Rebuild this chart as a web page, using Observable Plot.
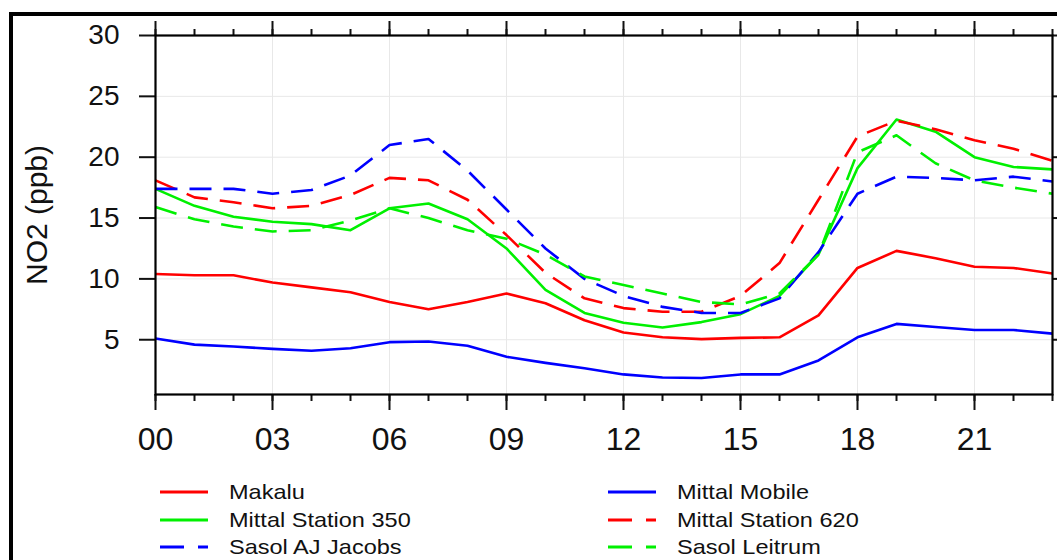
<!DOCTYPE html>
<html>
<head>
<meta charset="utf-8">
<script src="https://cdn.jsdelivr.net/npm/d3@7"></script>
<script src="https://cdn.jsdelivr.net/npm/@observablehq/plot@0.6"></script>
<style>
  html, body { margin: 0; padding: 0; background: #fff; width: 1057px; height: 560px; overflow: hidden; }
  #border { position: absolute; left: 9px; top: 12px; width: 1200px; height: 700px; border: 4px solid #000; box-sizing: border-box; }
  #chart { position: absolute; left: 0; top: 0; }
  #legend { position: absolute; top: 478px; left: 0; width: 1057px; font-family: "Liberation Sans", Arial, sans-serif; font-size: 21px; color: #111; }
  .item { position: absolute; height: 27px; display: flex; align-items: center; }
  .item svg { margin-right: 21px; }
  .item span { display: inline-block; transform: scaleX(1.12); transform-origin: left center; white-space: nowrap; }
</style>
</head>
<body>
<div id="border"></div>
<div id="chart"></div>
<div id="legend"></div>
<script>
// ---- data ----
const hours = [0,1,2,3,4,5,6,7,8,9,10,11,12,13,14,15,16,17,18,19,20,21,22,23];
const xMajorTicks = [0,3,6,9,12,15,18,21];
const xMinorTicks = [0,1,2,3,4,5,6,7,8,9,10,11,12,13,14,15,16,17,18,19,20,21,22,23];
const yTicks = [5,10,15,20,25,30];

const makalu          = [10.4,10.3,10.3,9.7,9.3,8.9,8.1,7.5,8.1,8.8,8.0,6.6,5.6,5.2,5.05,5.15,5.2,7.0,10.9,12.3,11.7,11.0,10.9,10.45];
const mittalMobile    = [5.1,4.6,4.45,4.25,4.1,4.3,4.8,4.85,4.5,3.6,3.1,2.65,2.15,1.9,1.85,2.15,2.15,3.3,5.2,6.3,6.05,5.8,5.8,5.5];
const mittal350       = [17.4,16.0,15.1,14.7,14.5,14.0,15.8,16.2,14.9,12.5,9.1,7.2,6.4,6.0,6.45,7.1,8.6,12.0,19.1,23.1,22.1,20.0,19.2,19.0];
const mittal620       = [18.1,16.7,16.3,15.8,16.0,16.9,18.3,18.1,16.5,13.6,10.5,8.4,7.6,7.3,7.3,8.6,11.3,16.5,21.7,23.0,22.3,21.4,20.7,19.7];
const sasolAJJacobs   = [17.4,17.4,17.4,17.0,17.3,18.5,21.0,21.5,18.9,15.7,12.5,10.0,8.6,7.7,7.2,7.2,8.4,12.2,17.0,18.4,18.3,18.1,18.4,18.0];
const sasolLeitrum    = [15.9,14.9,14.3,13.9,14.0,14.8,15.8,15.0,14.0,13.3,12.0,10.2,9.5,8.8,8.1,7.9,8.8,12.0,20.4,21.8,19.5,18.1,17.5,17.0];

const seriesNames  = ["Makalu","Mittal Mobile","Mittal Station 350","Mittal Station 620","Sasol AJ Jacobs","Sasol Leitrum"];
const seriesValues = [makalu, mittalMobile, mittal350, mittal620, sasolAJJacobs, sasolLeitrum];
const seriesColors = ["#ff0000","#0000ff","#00f000","#ff0000","#0000ff","#00f000"];
const seriesDashed = [false,false,false,true,true,true];

const DASH = "22,12";

const lineMarks = seriesValues.map((vals, i) =>
  Plot.line(hours.map((h, j) => ({hour: h, value: vals[j]})), {
    x: "hour", y: "value",
    stroke: seriesColors[i],
    strokeWidth: 2.6,
    strokeDasharray: seriesDashed[i] ? DASH : null,
    strokeLinejoin: "round",
    strokeLinecap: "butt"
  })
);

const pad2 = d => String(d).padStart(2, "0");
const blank = () => "";

const chart = Plot.plot({
  width: 1057,
  height: 470,
  marginLeft: 155,
  marginRight: 5,
  marginTop: 35,
  marginBottom: 76,
  x: {domain: [0, 23]},
  y: {domain: [0.5, 30]},
  style: {fontFamily: "'Liberation Sans', Arial, sans-serif", fontSize: "28px", color: "#111", background: "transparent", overflow: "visible"},
  marks: [
    Plot.gridX(xMajorTicks, {stroke: "#e8e8e8", strokeOpacity: 1, strokeWidth: 1}),
    Plot.gridY(yTicks, {stroke: "#e8e8e8", strokeOpacity: 1, strokeWidth: 1}),
    ...lineMarks,
    Plot.axisX(xMinorTicks, {anchor: "bottom", tickSize: 7, tickFormat: blank, label: null, strokeWidth: 2}),
    Plot.axisX(xMajorTicks, {anchor: "bottom", tickSize: 16, tickPadding: 17, tickFormat: pad2, label: null, strokeWidth: 2, fontSize: 32}),
    Plot.axisX(xMinorTicks, {anchor: "top", tickSize: 7, tickFormat: blank, label: null, strokeWidth: 2}),
    Plot.axisX(xMajorTicks, {anchor: "top", tickSize: 15, tickFormat: blank, label: null, strokeWidth: 2}),
    Plot.axisY(yTicks, {anchor: "left", tickSize: 16, tickPadding: 20, label: null, strokeWidth: 2, fontSize: 28}),
    Plot.axisY(yTicks, {anchor: "right", tickSize: 8, tickFormat: blank, label: null, strokeWidth: 2}),
    Plot.frame({stroke: "#000", strokeWidth: 2.2}),
    Plot.text(["NO2 (ppb)"], {frameAnchor: "left", dx: -118, rotate: -90, textAnchor: "middle", lineAnchor: "middle", fontSize: 30, fill: "#111"})
  ]
});
document.getElementById("chart").appendChild(chart);

// ---- legend (two columns, three rows) ----
const legendOrder = [0, 1, 2, 3, 4, 5];
const colX = [160, 608];
const rowY = [0, 28, 55];
const legend = document.getElementById("legend");
legendOrder.forEach((si, k) => {
  const col = k % 2, row = Math.floor(k / 2);
  const div = document.createElement("div");
  div.className = "item";
  div.style.left = colX[col] + "px";
  div.style.top = rowY[row] + "px";
  const ns = "http://www.w3.org/2000/svg";
  const svg = document.createElementNS(ns, "svg");
  svg.setAttribute("width", 48);
  svg.setAttribute("height", 10);
  const ln = document.createElementNS(ns, "line");
  ln.setAttribute("x1", 0); ln.setAttribute("x2", 48);
  ln.setAttribute("y1", 5); ln.setAttribute("y2", 5);
  ln.setAttribute("stroke", seriesColors[si]);
  ln.setAttribute("stroke-width", 3);
  if (seriesDashed[si]) ln.setAttribute("stroke-dasharray", "24,14");
  svg.appendChild(ln);
  div.appendChild(svg);
  const span = document.createElement("span");
  span.textContent = seriesNames[si];
  div.appendChild(span);
  legend.appendChild(div);
});
</script>
</body>
</html>
